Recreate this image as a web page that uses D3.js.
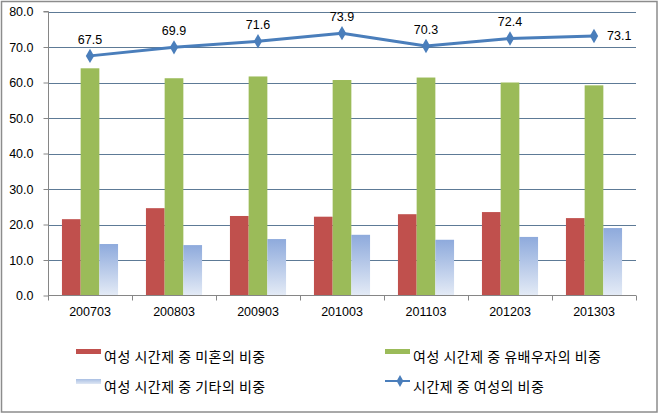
<!DOCTYPE html>
<html>
<head>
<meta charset="utf-8">
<script src="https://cdn.jsdelivr.net/npm/d3@7"></script>
<style>
  html, body { margin: 0; padding: 0; background: #fff; }
  svg { display: block; }
  .num { font-family: "Liberation Sans", Arial, sans-serif; font-size: 12.5px; fill: #000; }
  .leg { font-family: "Noto Sans CJK KR", sans-serif; font-size: 14px; letter-spacing: 0.5px; fill: #000; }
</style>
</head>
<body>
<svg id="chart" width="659" height="414"></svg>
<script>
const categories = ["200703", "200803", "200903", "201003", "201103", "201203", "201303"];
const singleShare = [21.5, 24.6, 22.4, 22.2, 22.9, 23.5, 21.8];
const marriedShare = [64.0, 61.2, 61.7, 60.7, 61.4, 60.0, 59.2];
const otherShare = [14.5, 14.2, 15.9, 17.1, 15.7, 16.5, 19.0];
const womenShare = [67.5, 69.9, 71.6, 73.9, 70.3, 72.4, 73.1];
const yTicks = [0, 10, 20, 30, 40, 50, 60, 70, 80];
const seriesNames = ["여성 시간제 중 미혼의 비중", "여성 시간제 중 유배우자의 비중", "여성 시간제 중 기타의 비중", "시간제 중 여성의 비중"];

const svg = d3.select("#chart");
const defs = svg.append("defs");
const grad = defs.append("linearGradient").attr("id", "blueGrad")
  .attr("x1", 0).attr("y1", 0).attr("x2", 0).attr("y2", 1);
grad.append("stop").attr("offset", "0%").attr("stop-color", "#8eaadc");
grad.append("stop").attr("offset", "100%").attr("stop-color", "#e4ebf6");
const gradL = defs.append("linearGradient").attr("id", "blueGradL")
  .attr("x1", 0).attr("y1", 0).attr("x2", 0).attr("y2", 1);
gradL.append("stop").attr("offset", "0%").attr("stop-color", "#a9bfe3");
gradL.append("stop").attr("offset", "100%").attr("stop-color", "#dfe7f4");

// outer border
svg.append("rect").attr("x", 1.5).attr("y", 1.5).attr("width", 655.5).attr("height", 410.5)
  .attr("fill", "#fff").attr("stroke", "#8c8c8c").attr("stroke-width", 1.5);

const x = d3.scaleBand().domain(categories).range([48, 636]).paddingInner(0).paddingOuter(0);
const y = d3.scaleLinear().domain([0, 80]).range([295.5, 11.5]);

const barW = 18.7;
const groupW = barW * 3;

// gridlines
svg.append("g").selectAll("line").data(yTicks.filter(t => t > 0)).join("line")
  .attr("x1", 48).attr("x2", 636)
  .attr("y1", d => Math.round(y(d)) + 0.5).attr("y2", d => Math.round(y(d)) + 0.5)
  .attr("stroke", "#5d7a96").attr("stroke-width", 1);

// y axis
const yAxis = d3.axisLeft(y).tickValues(yTicks).tickSize(5).tickPadding(10).tickFormat(d3.format(".1f"));
const gy = svg.append("g").attr("transform", "translate(48.5,0)").call(yAxis);
gy.select(".domain").attr("stroke", "#868686").attr("d", `M-5,${y(80)}H0V${y(0)}`);
gy.selectAll(".tick line").attr("stroke", "#868686");
gy.selectAll(".tick text").attr("class", "num");
gy.attr("font-family", null).attr("font-size", null);

// bars
const series = [
  { vals: singleShare, fill: "#c0504d", off: 0 },
  { vals: marriedShare, fill: "#9bbb59", off: 1 },
  { vals: otherShare, fill: "url(#blueGrad)", off: 2 }
];
series.forEach(s => {
  svg.append("g").selectAll("rect").data(categories).join("rect")
    .attr("x", (c) => x(c) + x.bandwidth() / 2 - groupW / 2 + s.off * barW)
    .attr("y", (c, i) => y(s.vals[i]))
    .attr("width", barW)
    .attr("height", (c, i) => y(0) - y(s.vals[i]))
    .attr("fill", s.fill);
});

// x axis
const xAxis = d3.axisBottom(x).tickSize(0).tickPadding(12);
const gx = svg.append("g").attr("transform", `translate(0,${y(0)})`).call(xAxis);
gx.select(".domain").attr("stroke", "#868686").attr("d", `M48,0H636`);
gx.selectAll(".tick text").attr("class", "num");
gx.attr("font-family", null).attr("font-size", null);
svg.append("g").selectAll("line").data(d3.range(categories.length + 1)).join("line")
  .attr("x1", i => 48 + i * x.bandwidth() + 0.5).attr("x2", i => 48 + i * x.bandwidth() + 0.5)
  .attr("y1", y(0)).attr("y2", y(0) + 5).attr("stroke", "#868686");

// line
const cx = c => x(c) + x.bandwidth() / 2;
const line = d3.line().x((d, i) => cx(categories[i])).y(d => y(d));
svg.append("path").datum(womenShare).attr("d", line)
  .attr("fill", "none").attr("stroke", "#4a7ebb").attr("stroke-width", 3).attr("stroke-linejoin", "round");
const diamond = d3.symbol().type(d3.symbolDiamond).size(60);
svg.append("g").selectAll("path").data(womenShare).join("path")
  .attr("d", diamond)
  .attr("transform", (d, i) => `translate(${cx(categories[i])},${y(d)})`)
  .attr("fill", "#4a7ebb");

svg.append("g").selectAll("text").data(womenShare).join("text")
  .attr("class", "num")
  .attr("x", (d, i) => i === womenShare.length - 1 ? cx(categories[i]) + 13 : cx(categories[i]))
  .attr("y", (d, i) => i === womenShare.length - 1 ? y(d) + 4.5 : y(d) - 12)
  .attr("text-anchor", (d, i) => i === womenShare.length - 1 ? "start" : "middle")
  .text(d => d3.format(".1f")(d));

// legend
const legPos = [
  { x: 76, y: 357 }, { x: 385, y: 357 }, { x: 76, y: 387 }, { x: 385, y: 387 }
];
const legFill = ["#c0504d", "#9bbb59", "url(#blueGradL)"];
const leg = svg.append("g");
seriesNames.forEach((name, i) => {
  const p = legPos[i];
  if (i < 3) {
    leg.append("rect").attr("x", p.x).attr("y", p.y - 8).attr("width", 25).attr("height", 5).attr("fill", legFill[i]);
  } else {
    leg.append("line").attr("x1", p.x).attr("x2", p.x + 25).attr("y1", p.y - 6).attr("y2", p.y - 6)
      .attr("stroke", "#4a7ebb").attr("stroke-width", 2);
    leg.append("path").attr("d", d3.symbol().type(d3.symbolDiamond).size(40))
      .attr("transform", `translate(${p.x + 15},${p.y - 6})`).attr("fill", "#4a7ebb");
  }
  leg.append("text").attr("class", "leg").attr("x", p.x + 28).attr("y", p.y + 5).text(name);
});
</script>
</body>
</html>
